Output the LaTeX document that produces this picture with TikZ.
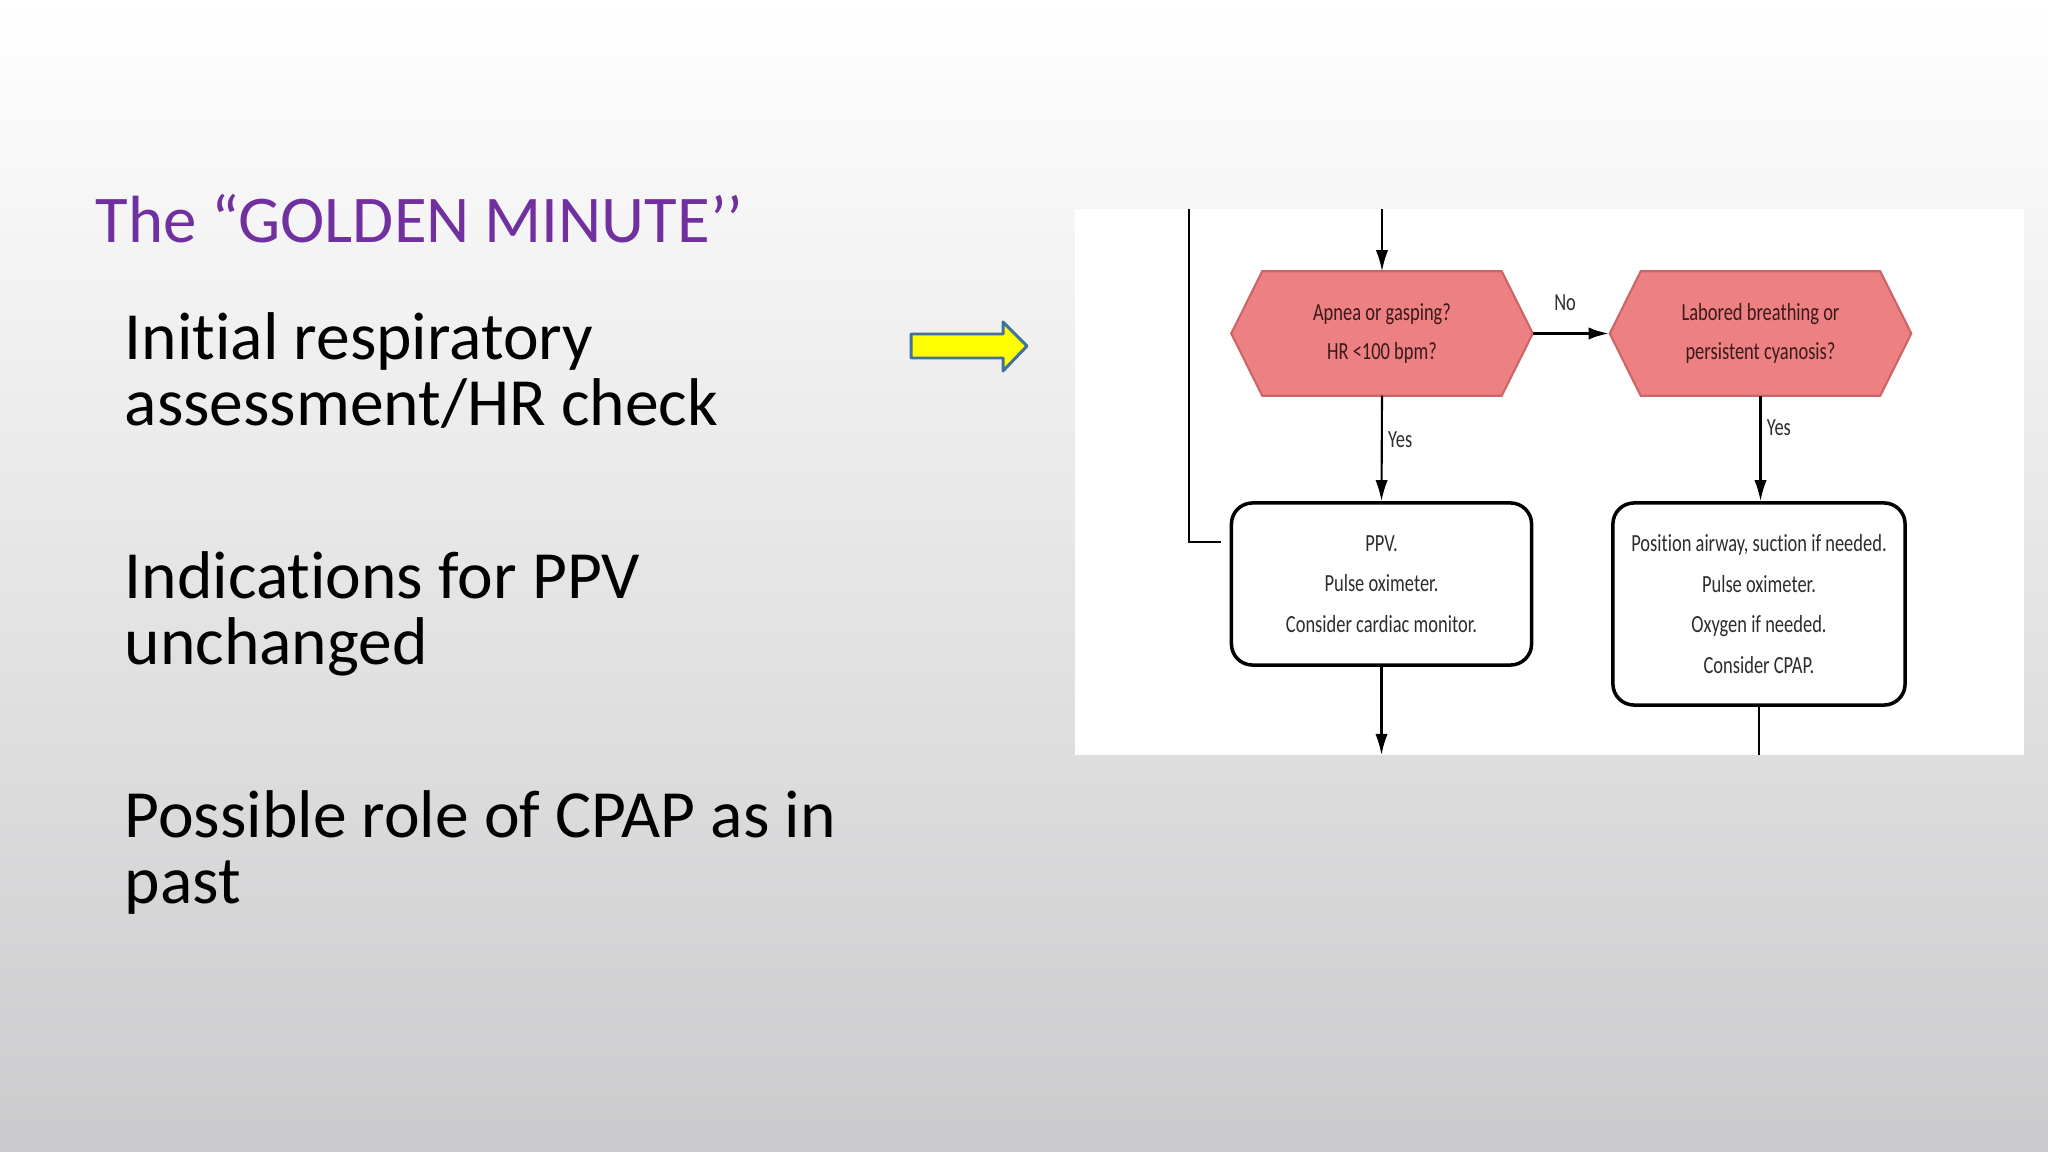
\documentclass[tikz,border=0pt]{standalone}
\usepackage{fontspec}
\setmainfont{Carlito}[Ligatures=NoCommon]
\newfontfamily\flowfont[FakeStretch=0.75,Ligatures=NoCommon]{Carlito}
\usetikzlibrary{arrows.meta}
\definecolor{titlepurple}{RGB}{112,48,160}
\definecolor{hexfill}{RGB}{236,128,131}
\definecolor{hexdraw}{RGB}{205,100,104}
\definecolor{hextext}{RGB}{60,25,25}
\definecolor{boxtext}{RGB}{45,45,45}
\definecolor{arrowyellow}{RGB}{255,255,0}
\definecolor{arrowblue}{RGB}{65,113,156}
\definecolor{bgbottom}{RGB}{203,203,205}
\pgfdeclarelayer{bg}
\pgfsetlayers{bg,main}
\tikzset{
  bodytext/.style={anchor=base west, inner sep=0pt, font=\fontsize{19.2}{19.2}\selectfont, text=black},
  titletext/.style={anchor=base west, inner sep=0pt, font=\fontsize{19}{19}\selectfont, text=titlepurple},
  hexnode/.style={minimum width=3.0cm, minimum height=1.23cm, inner sep=0pt, align=center,
    font=\flowfont\fontsize{7}{11}\selectfont, text=hextext},
  hexshape/.style={fill=hexfill, draw=hexdraw, line width=0.6pt},
  boxnode/.style={draw=black, line width=1pt, rounded corners=6pt, fill=white, inner sep=0pt, align=center,
    font=\flowfont\fontsize{7}{11.6}\selectfont, text=boxtext},
  flowlabel/.style={font=\flowfont\fontsize{7}{8}\selectfont, text=boxtext, inner sep=1.5pt},
  conn/.style={draw=black, line width=0.6pt, -{Latex[length=6pt,width=3.5pt]}},
  plainline/.style={draw=black, line width=0.6pt},
  bigarrow/.style={fill=arrowyellow, draw=arrowblue, line width=0.85pt, line join=round}
}
\begin{document}
\begin{tikzpicture}[x=0.01cm,y=-0.01cm]
\useasboundingbox (0,0) rectangle (2048,1152);
\begin{pgfonlayer}{bg}
\shade[top color=white, bottom color=bgbottom] (0,0) rectangle (2048,1152);
\fill[white] (1075,209) rectangle (2024,755);
\end{pgfonlayer}

% left text
\node[titletext] (title) at (95,243) {The “GOLDEN MINUTE’’};
\node[bodytext] (t1a) at (124,360) {Initial respiratory};
\node[bodytext] (t1b) at (124,426) {assessment/HR check};
\node[bodytext] (t2a) at (124,598) {Indications for PPV};
\node[bodytext] (t2b) at (124,665) {unchanged};
\node[bodytext] (t3a) at (124,837) {Possible role of CPAP as in};
\node[bodytext] (t3b) at (124,903) {past};

% yellow arrow
\filldraw[bigarrow] (911,334) -- (1003,334) -- (1003,322) -- (1027,346) -- (1003,371) -- (1003,358) -- (911,358) -- cycle;

% flowchart nodes
\node[hexnode] (h1) at (1382,333.5) {Apnea or gasping?\\HR <100 bpm?};
\node[hexnode] (h2) at (1760.5,333.5) {Labored breathing or\\persistent cyanosis?};
\node[boxnode, minimum width=3.0cm, minimum height=1.62cm] (b1) at (1381.5,584) {PPV.\\Pulse oximeter.\\Consider cardiac monitor.};
\node[boxnode, minimum width=2.92cm, minimum height=2.02cm] (b2) at (1759,604) {Position airway, suction if needed.\\Pulse oximeter.\\Oxygen if needed.\\Consider CPAP.};

\begin{pgfonlayer}{bg}
\filldraw[hexshape] (h1.west) -- ([xshift=0.31cm]h1.north west) -- ([xshift=-0.31cm]h1.north east) -- (h1.east) -- ([xshift=-0.31cm]h1.south east) -- ([xshift=0.31cm]h1.south west) -- cycle;
\filldraw[hexshape] (h2.west) -- ([xshift=0.31cm]h2.north west) -- ([xshift=-0.31cm]h2.north east) -- (h2.east) -- ([xshift=-0.31cm]h2.south east) -- ([xshift=0.31cm]h2.south west) -- cycle;
\end{pgfonlayer}

% free ends
\coordinate (tin) at (1382,209);
\coordinate (ltop) at (1189,209);
\coordinate (lend) at (1221,542);
\coordinate (bout) at (1381.5,755);
\coordinate (b2out) at (1759,755);

% connectors
\draw[conn] (tin) -- (h1.north);
\draw[plainline] (ltop) |- (lend);
\draw[conn, line width=1pt] (h1.east) -- node[flowlabel, pos=0.42, above=0.16cm] (lno) {No} (h2.west);
\draw[conn] (h1.south) -- node[flowlabel, pos=0.42, right] (lyes1) {Yes} (b1.north);
\draw[conn] (h2.south) -- node[flowlabel, pos=0.3, right] (lyes2) {Yes} (h2.south |- b2.north);
\draw[conn] (b1.south) -- (bout);
\draw[plainline] (b2.south) -- (b2out);
\end{tikzpicture}
\end{document}
